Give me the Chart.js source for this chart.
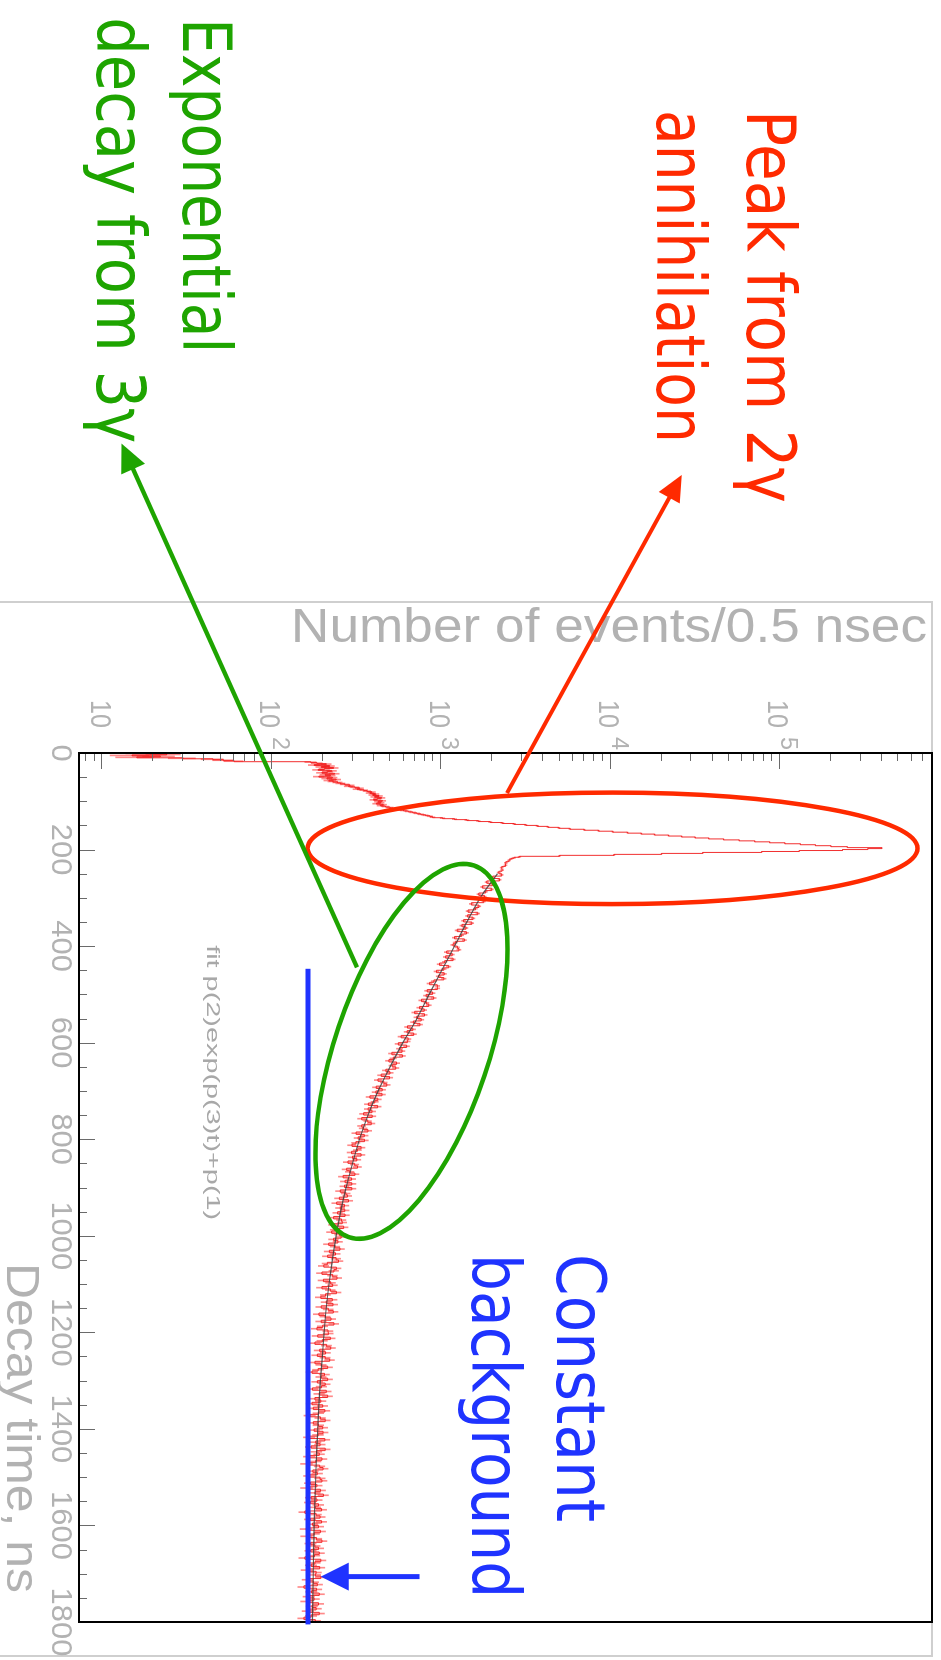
<!DOCTYPE html>
<html>
<head>
<meta charset="utf-8">
<title>Positron decay time spectrum</title>
<script src="https://cdn.jsdelivr.net/npm/chart.js@4.4.1/dist/chart.umd.min.js"></script>
<style>
  html, body { margin: 0; padding: 0; background: #fff; width: 941px; height: 1660px; overflow: hidden; }
  /* The plot is laid out landscape and turned a quarter turn clockwise onto the page */
  #plot { position: absolute; left: 0; top: 0; width: 1660px; height: 941px;
          transform-origin: 0 0; transform: translate(941px, 0) rotate(90deg); }
</style>
</head>
<body>
<canvas id="plot" width="1660" height="941"></canvas>
<script>
// ---------------------------------------------------------------------------
// Histogram of decay times (counts per bin)
// ---------------------------------------------------------------------------
const FINE_BIN = 2;      // ns, bin width from 0 to 220 ns
const TAIL_START = 220;  // ns
const TAIL_BIN = 5;      // ns, bin width from 220 to 1800 ns
const TIME_MIN = 0, TIME_MAX = 1800;
const COUNT_MIN = 7.29, COUNT_MAX = 790000;

// 0 .. 218 ns, 2 ns bins
const fineCounts = [
  18, 24, 15, 22, 16, 30, 45, 52, 60, 170,
  185, 210, 178, 220, 196, 232, 205, 188, 226, 214,
  198, 235, 207, 222, 190, 228, 212, 240, 218, 230,
  245, 255, 270, 290, 285, 310, 330, 320, 350, 365,
  390, 380, 410, 395, 430, 405, 445, 420, 400, 450,
  425, 440, 415, 455, 440, 470, 500, 520, 560, 600,
  640, 680, 720, 760, 810, 860, 890, 1020, 1200, 1420,
  1660, 1950, 2300, 2700, 3160, 3700, 4270, 4950, 5750, 7000,
  8500, 10300, 12600, 15200, 18200, 22000, 26300, 31600, 38000, 46500,
  57500, 71000, 87000, 107000, 132000, 162000, 200000, 250000, 400000, 330000,
  234000, 130000, 78000, 35000, 20000, 10500, 5000, 2900, 2700, 2600
];

// 220 .. 1795 ns, 5 ns bins
const tailCounts = [
  2520, 2410, 2400, 2280, 2290, 2190,
  2279, 2016, 2214, 1860, 2009, 1753, 1990, 1833, 1669, 1804,
  1649, 1787, 1509, 1674, 1596, 1442, 1647, 1435, 1544, 1358,
  1519, 1327, 1403, 1245, 1411, 1323, 1200, 1372, 1213, 1176,
  1248, 1274, 1079, 1163, 1064, 1177, 1050, 979, 1109, 1038,
  939, 1043, 967, 1038, 907, 855, 950, 951, 828, 891,
  816, 904, 766, 819, 846, 746, 795, 698, 798, 718,
  763, 686, 750, 633, 681, 630, 689, 581, 639, 632,
  559, 626, 569, 588, 512, 591, 522, 492, 546, 515,
  540, 472, 499, 443, 496, 424, 459, 478, 414, 449,
  412, 448, 380, 423, 406, 372, 422, 371, 391, 349,
  392, 340, 369, 387, 340, 347, 370, 315, 352, 324,
  353, 314, 298, 337, 321, 296, 337, 300, 318, 282,
  309, 321, 277, 289, 310, 264, 296, 271, 297, 269,
  297, 254, 274, 280, 251, 284, 242, 269, 254, 270,
  245, 271, 232, 258, 261, 232, 266, 237, 226, 251,
  257, 232, 246, 217, 237, 253, 219, 238, 214, 240,
  248, 213, 203, 241, 233, 198, 229, 243, 202, 223,
  229, 198, 222, 241, 208, 195, 228, 210, 230, 196,
  216, 231, 190, 207, 224, 196, 233, 200, 185, 215,
  216, 187, 222, 199, 180, 211, 223, 192, 208, 186,
  207, 220, 180, 196, 214, 188, 173, 205, 196, 214,
  186, 207, 197, 174, 210, 191, 214, 180, 195, 173,
  200, 176, 206, 189, 168, 194, 207, 176, 189, 200,
  178, 201, 188, 167, 206, 182, 193, 171, 207, 184,
  191, 167, 198, 182, 161, 192, 201, 175, 186, 167,
  193, 198, 169, 185, 161, 194, 180, 202, 171, 185,
  169, 189, 181, 197, 157, 183, 193, 169, 197, 174,
  189, 160, 194, 178, 161, 184, 198, 170, 180, 189,
  170, 191, 179, 157, 195, 180, 171, 192, 162, 183,
  181, 195, 164, 176, 186, 155, 184, 172, 191, 166,
  178, 161, 189, 173, 183, 164, 191, 171, 155, 181
];

// Fitted curve p(2)exp(p(3)t)+p(1), sampled every 50 ns
const fitTimes = [250, 300, 350, 400, 450, 500, 550, 600, 650, 700, 750, 800, 850, 900, 950, 1000,
                  1050, 1100, 1150, 1200, 1250, 1300, 1350, 1400, 1450, 1500, 1550, 1600, 1650, 1700, 1750, 1800];
const fitValues = [2150, 1700, 1420, 1200, 1010, 850, 720, 595, 500, 425, 370, 330, 300, 275, 255, 240,
                   228, 218, 210, 204, 199, 194, 190, 187, 184, 182, 180, 178, 177, 176, 175, 174];

// Axis ticks and labels
const timeTicks = [0, 200, 400, 600, 800, 1000, 1200, 1400, 1600, 1800];
const timeTickLabels = ['0', '200', '400', '600', '800', '1000', '1200', '1400', '1600', '1800'];
const decadeValues = [10, 100, 1000, 10000, 100000];
const decadeExponents = ['', '2', '3', '4', '5'];
const TIME_TITLE = 'Decay time, ns';
const COUNT_TITLE = 'Number of events/0.5 nsec';
const FIT_LABEL = 'fit p(2)exp(p(3)t)+p(1)';

// ---------------------------------------------------------------------------
// Hand-drawn callouts (positions in ns / counts)
// ---------------------------------------------------------------------------
const RED = '#ff2a00', GREEN = '#1ea400', BLUE = '#1f33ff';
const HAND_FONT = '"DejaVu Sans", sans-serif';

const peakEllipse = { color: RED, t0: 82, t1: 313, c0: 163, c1: 649000, lineWidth: 4.5 };
const decayEllipse = { color: GREEN, tA: 233, cA: 1564, tB: 1003, cB: 286, halfWidth: 77, lineWidth: 4.5 };
const backgroundLine = { color: BLUE, t0: 447, t1: 1805, c: 164, lineWidth: 5 };
const arrows = [
  { color: RED,   fromT: 83,   fromC: 2449, toT: -576, toC: 26320, lineWidth: 4, head: 26, half: 12 },
  { color: GREEN, fromT: 444,  fromC: 319,  toT: -641, toC: 13.0,  lineWidth: 4.5, head: 28, half: 13 },
  { color: BLUE,  fromT: 1706, fromC: 746,  toT: 1706, toC: 195,   lineWidth: 5, head: 28, half: 14 }
];
const callouts = [
  { text: 'Exponential',   t: -1522, c: 29.97, width: 335, color: GREEN },
  { text: 'decay from 3γ', t: -1524, c: 9.31,  width: 426, color: GREEN },
  { text: 'Peak from 2γ',  t: -1332, c: 63900, width: 393, color: RED },
  { text: 'annihilation',  t: -1332, c: 18810, width: 333, color: RED },
  { text: 'Constant',      t: 1038,  c: 4832,  width: 268, color: BLUE },
  { text: 'background',    t: 1038,  c: 1522,  width: 344, color: BLUE }
];

// ---------------------------------------------------------------------------
// Datasets built from the arrays above
// ---------------------------------------------------------------------------
const histPoints = [];
const errorBars = [];
fineCounts.forEach((c, i) => {
  histPoints.push({ x: i * FINE_BIN, y: c });
  errorBars.push({ x: i * FINE_BIN + FINE_BIN / 2, y: [c - Math.sqrt(c), c + Math.sqrt(c)] });
});
tailCounts.forEach((c, i) => {
  const t = TAIL_START + i * TAIL_BIN;
  histPoints.push({ x: t, y: c });
  errorBars.push({ x: t + TAIL_BIN / 2, y: [c - Math.sqrt(c), c + Math.sqrt(c)] });
});
histPoints.push({ x: TIME_MAX, y: tailCounts[tailCounts.length - 1] });
const fitPoints = fitTimes.map((t, i) => ({ x: t, y: fitValues[i] }));

// ---------------------------------------------------------------------------
// Drawing helpers
// ---------------------------------------------------------------------------
function fittedText(ctx, str, x, y, width, font, color, align, baseline) {
  ctx.save();
  ctx.font = font;
  ctx.fillStyle = color;
  ctx.textBaseline = baseline || 'alphabetic';
  ctx.textAlign = align || 'left';
  const w = ctx.measureText(str).width;
  ctx.translate(x, y);
  ctx.scale(width / w, 1);
  ctx.fillText(str, 0, 0);
  ctx.restore();
}

function drawArrow(ctx, x0, y0, x1, y1, color, lw, head, half) {
  const dx = x1 - x0, dy = y1 - y0;
  const len = Math.hypot(dx, dy);
  const ux = dx / len, uy = dy / len;
  const bx = x1 - ux * head, by = y1 - uy * head;
  ctx.save();
  ctx.strokeStyle = color;
  ctx.fillStyle = color;
  ctx.lineWidth = lw;
  ctx.lineCap = 'butt';
  ctx.beginPath();
  ctx.moveTo(x0, y0);
  ctx.lineTo(bx + ux * 2, by + uy * 2);
  ctx.stroke();
  ctx.beginPath();
  ctx.moveTo(x1, y1);
  ctx.lineTo(bx - uy * half, by + ux * half);
  ctx.lineTo(bx + uy * half, by - ux * half);
  ctx.closePath();
  ctx.fill();
  ctx.restore();
}

const LABEL_GRAY = '#b2b2b2';
const AXIS_FONT = '"Liberation Sans", Arial, sans-serif';

// Frame, inner ticks, tick labels and axis titles in the ROOT style
const rootFrame = {
  id: 'rootFrame',
  beforeDraw(chart) {
    const ctx = chart.ctx;
    const a = chart.chartArea;
    ctx.save();
    ctx.fillStyle = '#fff';
    ctx.fillRect(0, 0, chart.width, chart.height);
    // canvas border
    ctx.strokeStyle = '#cfcfcf';
    ctx.lineWidth = 2;
    ctx.beginPath();
    ctx.moveTo(a.left - 151, chart.height);
    ctx.lineTo(a.left - 151, a.top);
    ctx.lineTo(a.right + 34, a.top);
    ctx.lineTo(a.right + 34, chart.height);
    ctx.stroke();
    ctx.restore();
  },
  afterDatasetsDraw(chart) {
    const ctx = chart.ctx;
    const a = chart.chartArea;
    const xs = chart.scales.x, ys = chart.scales.y;
    ctx.save();
    // ticks on the time axis
    ctx.strokeStyle = '#6a6a6a';
    ctx.lineWidth = 1;
    ctx.beginPath();
    for (let t = TIME_MIN; t <= TIME_MAX; t += 50) {
      const x = Math.round(xs.getPixelForValue(t)) + 0.5;
      const len = t % 200 === 0 ? 16 : 8;
      ctx.moveTo(x, a.bottom);
      ctx.lineTo(x, a.bottom - len);
    }
    // ticks on the count axis
    for (let d = 0; d <= 5; d++) {
      for (let m = 1; m <= 9; m++) {
        const v = m * Math.pow(10, d);
        if (v < COUNT_MIN || v > COUNT_MAX) continue;
        const y = Math.round(ys.getPixelForValue(v)) + 0.5;
        const len = m === 1 ? 16 : 8;
        ctx.moveTo(a.left, y);
        ctx.lineTo(a.left + len, y);
      }
    }
    ctx.stroke();
    // frame
    ctx.strokeStyle = '#000';
    ctx.lineWidth = 2;
    ctx.strokeRect(a.left, a.top, a.right - a.left, a.bottom - a.top);

    // time tick labels
    timeTicks.forEach((t, i) => {
      const s = timeTickLabels[i];
      fittedText(ctx, s, xs.getPixelForValue(t), a.bottom + 19, s.length * 17.2,
                 '30px ' + AXIS_FONT, LABEL_GRAY, 'center', 'middle');
    });
    // count tick labels: 10 with superscript exponent
    decadeValues.forEach((v, i) => {
      const y = ys.getPixelForValue(v);
      fittedText(ctx, '10', a.left - 25, y + 11.5, 28, '30px ' + AXIS_FONT, LABEL_GRAY, 'right');
      if (decadeExponents[i]) {
        fittedText(ctx, decadeExponents[i], a.left - 16, y - 1, 13, '23px ' + AXIS_FONT, LABEL_GRAY, 'left');
      }
    });
    // axis titles
    fittedText(ctx, TIME_TITLE, a.right - 29, a.bottom + 72, 330, '46px ' + AXIS_FONT, LABEL_GRAY, 'right');
    ctx.save();
    ctx.translate(a.left - 111, a.top + 5);
    ctx.rotate(-Math.PI / 2);
    fittedText(ctx, COUNT_TITLE, 0, 0, 636, '48px ' + AXIS_FONT, LABEL_GRAY, 'right');
    ctx.restore();
    // fit function caption
    fittedText(ctx, FIT_LABEL, xs.getPixelForValue(398), ys.getPixelForValue(41.5), 275,
               '18px ' + AXIS_FONT, '#a8a8a8', 'left');
    ctx.restore();
  }
};

// Ellipses, arrows, background level and hand-written notes
const handNotes = {
  id: 'handNotes',
  afterDraw(chart) {
    const ctx = chart.ctx;
    const xs = chart.scales.x, ys = chart.scales.y;
    const px = t => xs.getPixelForValue(t);
    const py = c => ys.getPixelForValue(c);
    ctx.save();

    // annihilation peak
    {
      const e = peakEllipse;
      const x0 = px(e.t0), x1 = px(e.t1), y0 = py(e.c1), y1 = py(e.c0);
      ctx.strokeStyle = e.color;
      ctx.lineWidth = e.lineWidth;
      ctx.beginPath();
      ctx.ellipse((x0 + x1) / 2, (y0 + y1) / 2, (x1 - x0) / 2, (y1 - y0) / 2, 0, 0, Math.PI * 2);
      ctx.stroke();
    }
    // exponential region
    {
      const e = decayEllipse;
      const ax = px(e.tA), ay = py(e.cA), bx = px(e.tB), by = py(e.cB);
      ctx.strokeStyle = e.color;
      ctx.lineWidth = e.lineWidth;
      ctx.beginPath();
      ctx.ellipse((ax + bx) / 2, (ay + by) / 2, Math.hypot(bx - ax, by - ay) / 2, e.halfWidth,
                  Math.atan2(by - ay, bx - ax), 0, Math.PI * 2);
      ctx.stroke();
    }
    // constant background level
    {
      const l = backgroundLine;
      ctx.strokeStyle = l.color;
      ctx.lineWidth = l.lineWidth;
      ctx.beginPath();
      ctx.moveTo(px(l.t0), py(l.c));
      ctx.lineTo(px(l.t1), py(l.c));
      ctx.stroke();
    }
    arrows.forEach(ar => drawArrow(ctx, px(ar.fromT), py(ar.fromC), px(ar.toT), py(ar.toC),
                                   ar.color, ar.lineWidth, ar.head, ar.half));
    callouts.forEach(n => fittedText(ctx, n.text, px(n.t), py(n.c), n.width, '68px ' + HAND_FONT, n.color, 'left'));
    ctx.restore();
  }
};

new Chart(document.getElementById('plot'), {
  type: 'line',
  data: {
    datasets: [
      {
        label: 'fit',
        data: fitPoints,
        borderColor: 'rgba(60,60,60,0.85)',
        borderWidth: 1.2,
        pointRadius: 0,
        cubicInterpolationMode: 'monotone',
        fill: false,
        order: 0
      },
      {
        label: 'events',
        data: histPoints,
        stepped: true,
        borderColor: 'rgba(240,25,25,0.9)',
        borderWidth: 1,
        pointRadius: 0,
        fill: false,
        order: 1
      },
      {
        type: 'bar',
        label: 'errors',
        data: errorBars,
        backgroundColor: 'rgba(255,60,60,0.6)',
        borderWidth: 0,
        barThickness: 1,
        grouped: false,
        order: 2
      }
    ]
  },
  options: {
    responsive: false,
    animation: false,
    devicePixelRatio: 1,
    layout: { padding: { left: 753, right: 38, top: 9, bottom: 79 } },
    plugins: { legend: { display: false }, tooltip: { enabled: false } },
    events: [],
    scales: {
      x: { type: 'linear', min: TIME_MIN, max: TIME_MAX, display: false, offset: false },
      y: { type: 'logarithmic', min: COUNT_MIN, max: COUNT_MAX, display: false }
    }
  },
  plugins: [rootFrame, handNotes]
});
</script>
</body>
</html>
